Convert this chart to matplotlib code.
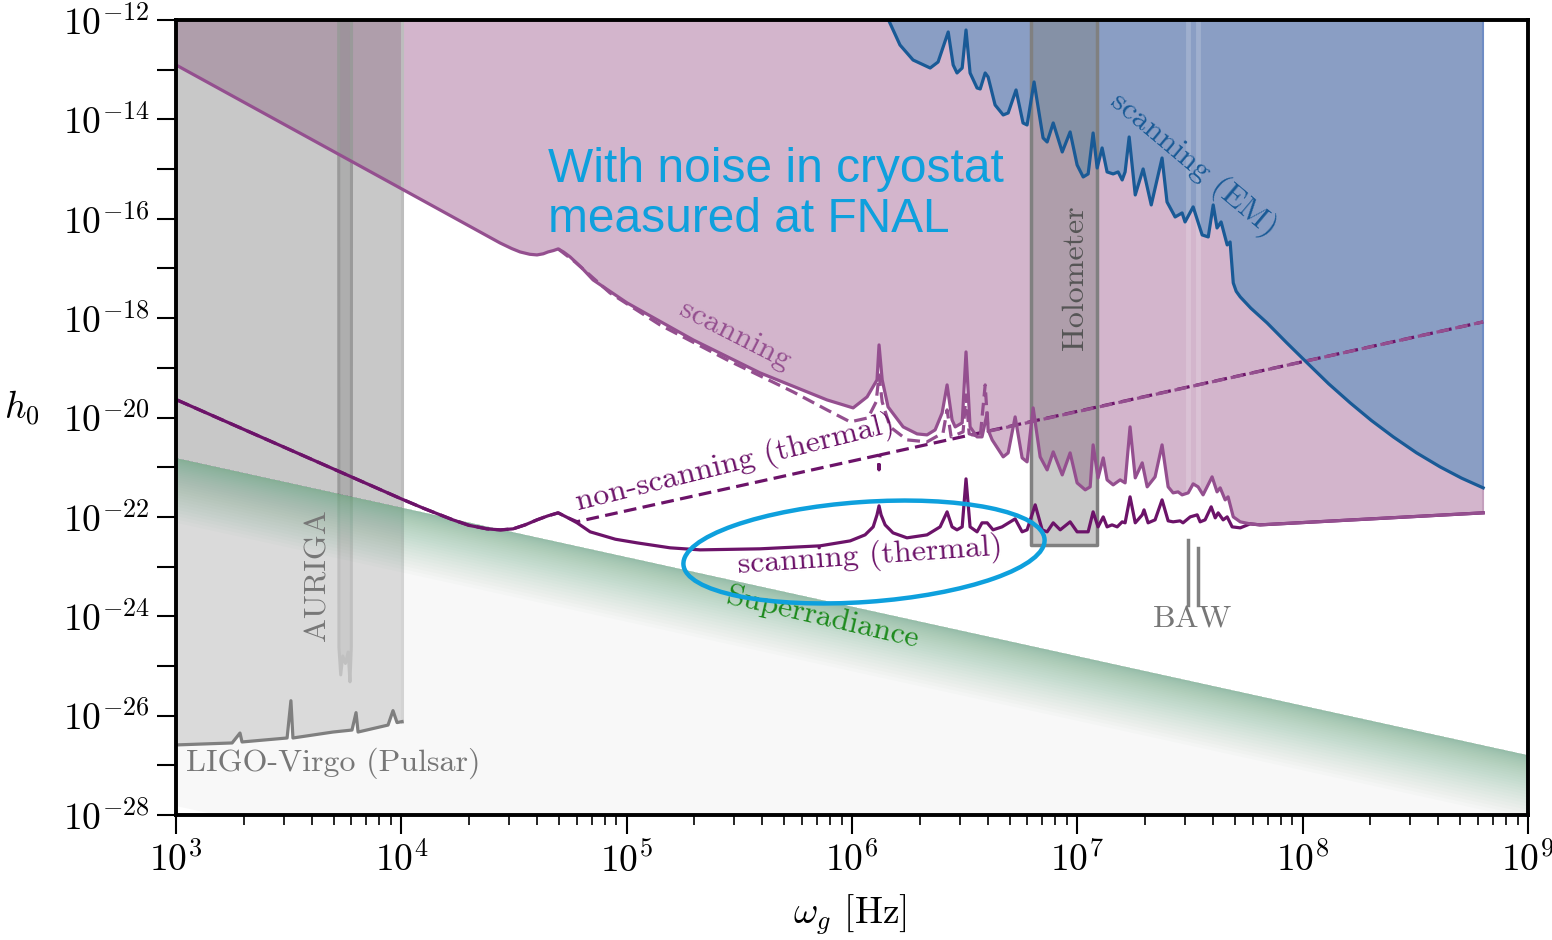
import numpy as np
import matplotlib
matplotlib.use("Agg")
import matplotlib.pyplot as plt
from matplotlib.patches import Ellipse
from matplotlib.ticker import FixedLocator, FuncFormatter, LogLocator, NullFormatter, NullLocator

plt.rcParams['mathtext.fontset'] = 'cm'
plt.rcParams['font.family'] = ['cmr10', 'DejaVu Serif']
plt.rcParams['axes.formatter.use_mathtext'] = True

# ---------------------------------------------------------------------------
# Sensitivity curves, stored as log10(frequency / Hz) and log10(h0)
# ---------------------------------------------------------------------------
scan_logf = [3.000, 3.994, 4.438, 4.490, 4.527, 4.570, 4.602, 4.630, 4.651, 4.675,
             4.696, 4.720, 4.749, 4.800, 4.851, 5.002,
             5.295, 5.592, 5.889, 6.005, 6.067, 6.111, 6.120, 6.134, 6.160, 6.227,
             6.289, 6.333, 6.369, 6.400, 6.422, 6.444, 6.458, 6.489, 6.506, 6.524,
             6.555, 6.577, 6.600, 6.604, 6.622, 6.671, 6.693, 6.724, 6.755, 6.777,
             6.804, 6.835, 6.866, 6.893, 6.933, 6.968, 6.999, 7.035, 7.057, 7.070,
             7.092, 7.115, 7.132, 7.159, 7.190, 7.212, 7.234, 7.257, 7.288, 7.310,
             7.345, 7.376, 7.403, 7.425, 7.447, 7.465, 7.492, 7.514, 7.536, 7.558,
             7.598, 7.620, 7.634, 7.656, 7.669, 7.692, 7.723, 7.767, 7.811, 8.801]
scan_logh = [-12.905, -15.380, -16.487, -16.600, -16.668, -16.715, -16.728, -16.705, -16.668, -16.640,
             -16.607, -16.670, -16.768, -16.985, -17.231, -17.694,
             -18.438, -19.102, -19.646, -19.807, -19.585, -19.243, -18.539, -19.243, -19.786, -20.189,
             -20.330, -20.350, -20.249, -19.907, -19.344, -20.048, -20.189, -20.108, -18.680, -20.189,
             -20.390, -20.390, -19.907, -20.249, -20.450, -20.792, -20.712, -19.988, -20.813, -20.893,
             -19.807, -20.792, -21.054, -20.692, -21.155, -20.712, -21.316, -21.456, -21.396, -20.551,
             -21.215, -20.813, -21.255, -21.356, -21.255, -21.316, -20.189, -21.215, -20.913, -21.396,
             -21.195, -20.551, -21.396, -21.517, -21.497, -21.557, -21.517, -21.336, -21.396, -21.557,
             -21.195, -21.497, -21.416, -21.658, -21.597, -22.000, -22.100, -22.141, -22.161, -21.919]

scan_alt_logf = [4.696, 4.771, 4.926, 5.148, 5.446, 5.739, 5.889, 5.992, 6.071, 6.107,
                 6.120, 6.134, 6.169, 6.244, 6.333, 6.404, 6.422, 6.440, 6.493, 6.506,
                 6.520, 6.569, 6.591, 6.604, 8.801]
scan_alt_logh = [-16.607, -16.869, -17.493, -18.137, -18.841, -19.485, -19.847, -20.088, -20.008, -19.686,
                 -19.143, -19.686, -20.189, -20.450, -20.491, -20.309, -19.847, -20.390, -20.289, -19.545,
                 -20.329, -20.390, -19.344, -20.280, -18.076]

therm_scan_logf = [3.004, 3.994, 4.100, 4.229, 4.300, 4.380, 4.440, 4.496, 4.550, 4.602,
                   4.650, 4.696, 4.740, 4.780, 4.838, 4.950, 5.046, 5.193, 5.326, 5.592,
                   5.858, 5.992, 6.058, 6.094, 6.111,
                   6.120, 6.129, 6.147, 6.182, 6.244, 6.333, 6.391, 6.422, 6.444, 6.466,
                   6.489, 6.506, 6.524, 6.555, 6.577, 6.600, 6.626, 6.666, 6.724, 6.755,
                   6.777, 6.813, 6.844, 6.866, 6.893, 6.924, 6.968, 6.999, 7.048, 7.070,
                   7.092, 7.115, 7.132, 7.154, 7.177, 7.199, 7.212, 7.234, 7.257, 7.288,
                   7.296, 7.314, 7.345, 7.376, 7.403, 7.425, 7.456, 7.469, 7.501, 7.532,
                   7.545, 7.567, 7.594, 7.612, 7.625, 7.647, 7.665, 7.687, 7.723, 7.767,
                   7.811, 8.801]
therm_scan_logh = [-19.646, -21.626, -21.830, -22.060, -22.170, -22.241, -22.262, -22.241, -22.160, -22.060,
                   -21.980, -21.919, -22.020, -22.120, -22.301, -22.450, -22.523, -22.623, -22.664, -22.643,
                   -22.583, -22.483, -22.362, -22.201, -21.959,
                   -21.778, -21.959, -22.161, -22.322, -22.422, -22.362, -22.201, -21.899, -22.201, -22.261,
                   -22.201, -21.235, -22.201, -22.301, -22.120, -22.120, -22.261, -22.201, -22.040, -22.301,
                   -22.261, -21.758, -22.261, -22.301, -22.120, -22.261, -22.100, -22.301, -22.301, -21.899,
                   -22.201, -22.000, -22.201, -22.161, -22.201, -22.100, -22.120, -21.597, -22.120, -21.959,
                   -21.859, -22.120, -22.060, -21.658, -22.080, -22.100, -22.080, -22.120, -22.000, -21.959,
                   -22.100, -22.060, -21.798, -22.020, -21.919, -22.060, -22.000, -22.201, -22.221, -22.141,
                   -22.161, -21.919]

therm_fixed_logf = [3.004, 3.994, 4.100, 4.229, 4.300, 4.380, 4.440, 4.496, 4.550, 4.602,
                    4.650, 4.696, 4.740, 4.780, 6.116, 6.120, 6.124, 8.801]
therm_fixed_logh = [-19.646, -21.626, -21.830, -22.060, -22.170, -22.241, -22.262, -22.241, -22.160, -22.060,
                    -21.980, -21.919, -22.020, -22.097, -20.761, -21.054, -20.753, -18.076]

em_logf = [6.147, 6.213, 6.271, 6.347, 6.382, 6.427, 6.449, 6.466, 6.489, 6.506,
           6.524, 6.555, 6.569, 6.591, 6.604, 6.635, 6.671, 6.693, 6.728, 6.759,
           6.777, 6.808, 6.848, 6.866, 6.893, 6.933, 6.968, 6.999, 7.026, 7.048,
           7.070, 7.088, 7.110, 7.132, 7.159, 7.181, 7.199, 7.212, 7.230, 7.257,
           7.292, 7.328, 7.376, 7.398, 7.434, 7.465, 7.478, 7.514, 7.554, 7.581,
           7.603, 7.620, 7.638, 7.665, 7.678, 7.692, 7.705, 7.723, 7.770, 7.842,
           7.930, 8.020, 8.115, 8.211, 8.305, 8.402, 8.505, 8.610, 8.705, 8.801]
em_logh = [-11.850, -12.503, -12.805, -12.966, -12.845, -12.241, -12.905, -13.066, -12.966, -12.201,
           -13.066, -13.368, -13.388, -13.066, -13.147, -13.710, -13.911, -13.871, -13.408, -14.072,
           -14.113, -13.247, -14.374, -14.455, -14.072, -14.656, -14.253, -14.917, -15.159, -15.098,
           -14.274, -14.978, -14.575, -15.058, -15.098, -15.058, -15.219, -15.058, -14.354, -15.521,
           -14.998, -15.722, -14.777, -15.662, -15.964, -15.883, -16.064, -15.762, -16.326, -16.366,
           -15.722, -16.185, -16.064, -16.527, -16.467, -17.292, -17.460, -17.573, -17.800, -18.096,
           -18.500, -18.901, -19.320, -19.706, -20.060, -20.390, -20.710, -20.994, -21.220, -21.416]

ligo_logf = [3.000, 3.249, 3.284, 3.293, 3.493, 3.510, 3.519, 3.697, 3.781, 3.799,
             3.808, 3.941, 3.963, 3.981, 4.003]
ligo_logh = [-26.59, -26.55, -26.35, -26.53, -26.45, -25.70, -26.45, -26.33, -26.29, -25.94,
             -26.33, -26.19, -25.90, -26.14, -26.12]

auriga_logf = [3.722, 3.723, 3.731, 3.740, 3.752, 3.764, 3.772, 3.778, 3.779]
auriga_logh = [-11.9, -24.62, -25.18, -24.80, -24.95, -24.72, -25.32, -24.62, -11.9]

holometer_f = [6.24e6, 1.22e7]
holometer_h = 2.74e-23

baw_f = [3.10e7, 3.44e7]
baw_h_top = [3.44e-23, 2.38e-23]
baw_h_bottom = 1.7e-24

superrad_logf = [3.0, 9.0]
superrad_logh = [-20.81, -26.79]

# ---------------------------------------------------------------------------
c_scan = '#944f8f'
c_scan_fill = '#d3b5cc'
c_therm = '#6c1369'
c_em = '#195a96'
c_em_fill = '#8a9ec4'
c_gray = '#808080'
c_note = '#0ea0dd'

HTOP = 1e-11


def arr(v):
    return np.power(10.0, np.asarray(v, dtype=float))


fig = plt.figure(figsize=(15.52, 9.40), dpi=100)
ax = fig.add_axes([176 / 1552, 125 / 940, 1352 / 1552, 795 / 940])
ax.set_xscale('log')
ax.set_yscale('log')

# excluded regions
f_scan, h_scan = arr(scan_logf), arr(scan_logh)
ax.fill_between(f_scan, h_scan, HTOP, color=c_scan_fill, lw=0, zorder=1)
f_em, h_em = arr(em_logf), arr(em_logh)
ax.fill_between(f_em, h_em, HTOP, color=c_em_fill, lw=0, zorder=2)
ax.plot([f_em[-1]] * 2, [h_em[-1], HTOP], color='#6f8cc4', lw=1.5, zorder=2)
ax.plot([f_scan[-1]] * 2, [h_scan[-1], h_em[-1]], color='#c4a0bd', lw=1.5, zorder=2)

# LIGO-Virgo pulsar bound
f_ligo, h_ligo = arr(ligo_logf), arr(ligo_logh)
ax.fill_between(f_ligo, h_ligo, HTOP, color=c_gray, alpha=0.43, lw=0, zorder=3)
ax.plot([f_ligo[-1]] * 2, [h_ligo[-1], HTOP], color='#bdbdbd', lw=2.2, zorder=3)

# AURIGA
f_aur, h_aur = arr(auriga_logf), arr(auriga_logh)
ax.fill_between(f_aur, h_aur, HTOP, color=c_gray, alpha=0.35, lw=0, zorder=3)
ax.plot(f_aur, h_aur, color='#9a9a9a', lw=2.2, zorder=3)

# Holometer
ax.fill_between(holometer_f, holometer_h, HTOP, facecolor=(0.5, 0.5, 0.5, 0.43),
                edgecolor=c_gray, lw=2.5, zorder=3)

# superradiance band, with a green fade just below its upper edge
f_sr, h_sr = arr(superrad_logf), arr(superrad_logh)
ax.fill_between(f_sr, h_sr, h_sr * 1e-7, color='#f0f0f0', alpha=0.45, lw=0, zorder=4)
n_layers = 30
for k in range(1, n_layers + 1):
    depth = 1.3 * (k / n_layers) ** 1.6
    ax.fill_between(f_sr, h_sr, h_sr * 10 ** (-depth), color='#2e8a55',
                    alpha=0.018, lw=0, zorder=4)

# BAW
for fb, ht in zip(baw_f, baw_h_top):
    ax.plot([fb, fb], [HTOP, ht], color='white', alpha=0.18, lw=3.5, zorder=4)
    ax.plot([fb, fb], [ht, baw_h_bottom], color=c_gray, lw=2.5, zorder=5)

# curves
lw = 2.3
ax.plot(f_ligo, h_ligo, color='#7f7f7f', lw=lw, zorder=6)
ax.plot(arr(therm_fixed_logf), arr(therm_fixed_logh), color=c_therm, lw=lw,
        dashes=(4, 2), zorder=6)
ax.plot(arr(scan_alt_logf), arr(scan_alt_logh), color=c_scan, lw=lw,
        dashes=(4, 2), dash_capstyle='butt', zorder=6)
ax.plot(arr(therm_scan_logf), arr(therm_scan_logh), color=c_therm, lw=lw, zorder=7)
ax.plot(f_scan, h_scan, color=c_scan, lw=lw, zorder=7)
ax.plot(f_em, h_em, color=c_em, lw=lw, zorder=7)

ax.set_xlim(1e3, 1e9)
ax.set_ylim(1e-28, 1e-12)

# labels on the plot
lab = dict(fontsize=23, ha='center', va='center', rotation_mode='anchor', zorder=9)
ax.text(10 ** 7.514, 10 ** -14.917, 'scanning (EM)', color=c_em, rotation=-40, **lab)
ax.text(10 ** 5.481, 10 ** -18.338, 'scanning', color=c_scan, rotation=-27, **lab)
ax.text(10 ** 5.481, 10 ** -20.913, 'non-scanning (thermal)', color=c_therm, rotation=14, **lab)
ax.text(10 ** 6.080, 10 ** -22.785, 'scanning (thermal)', color=c_therm, rotation=4, **lab)
ax.text(10 ** 5.867, 10 ** -24.03, 'Superradiance', color='#1d8a1d', rotation=-13, **lab)
ax.text(10 ** 3.630, 10 ** -23.167, 'AURIGA', color='#777777', rotation=90, **lab)
ax.text(10 ** 6.990, 10 ** -17.191, 'Holometer', color='#555555', rotation=90, **lab)
ax.text(10 ** 7.510, 10 ** -24.072, 'BAW', color='#777777', **lab)
ax.text(10 ** 3.044, 10 ** -26.949, 'LIGO-Virgo (Pulsar)', color='#777777', fontsize=23,
        ha='left', va='center', zorder=9)

ax.text(10 ** 4.651, 10 ** -15.511, 'With noise in cryostat\nmeasured at FNAL',
        color=c_note, fontsize=34.5, family='Liberation Sans', ha='left', va='center',
        linespacing=1.12, zorder=9)

ring = Ellipse((8.64, 3.88), width=3.62, height=1.00, angle=4,
               transform=fig.dpi_scale_trans, fill=False, ec=c_note, lw=3.2,
               zorder=10, clip_on=False)
ax.add_patch(ring)

# axes styling
ax.yaxis.set_major_locator(FixedLocator(10.0 ** np.arange(-28, -11)))
ax.yaxis.set_major_formatter(FuncFormatter(
    lambda v, p: r'$10^{%d}$' % round(np.log10(v)) if round(np.log10(v)) % 2 == 0 else ''))
ax.yaxis.set_minor_locator(NullLocator())
ax.xaxis.set_major_locator(LogLocator(base=10, numticks=20))
ax.xaxis.set_minor_locator(LogLocator(base=10, subs=np.arange(2, 10), numticks=20))
ax.xaxis.set_minor_formatter(NullFormatter())
ax.tick_params(which='major', direction='out', length=14, width=1.5, labelsize=27, pad=5)
ax.tick_params(which='minor', direction='out', length=7, width=1.2)
ax.xaxis.get_offset_text().set_visible(False)
ax.yaxis.get_offset_text().set_visible(False)
for s in ax.spines.values():
    s.set_linewidth(2.8)
    s.set_zorder(11)

ax.set_xlabel(r'$\omega_g$ [Hz]', fontsize=27, va='center')
ax.xaxis.set_label_coords(0.4985, -0.125)
ax.set_ylabel(r'$h_0$', fontsize=27, rotation=0, va='center', ha='center')
ax.yaxis.set_label_coords(-0.114, 0.512)

fig.savefig('out.png', dpi=100)
